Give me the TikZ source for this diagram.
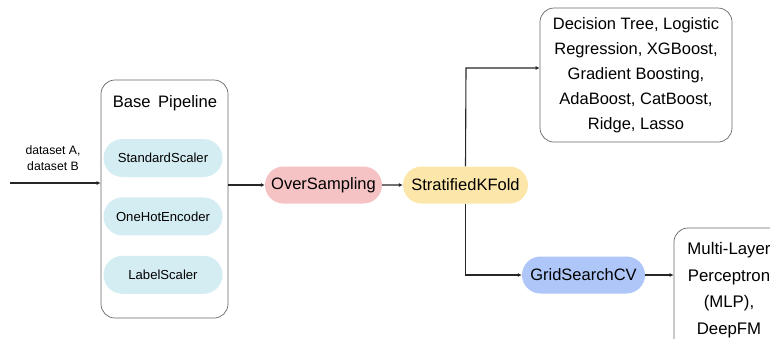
\documentclass[tikz,border=0pt]{standalone}
\usepackage{fontspec}
\setmainfont{Liberation Sans}
\usepackage{tikz}
\usetikzlibrary{arrows.meta}
\usetikzlibrary{shapes.misc}
\usetikzlibrary{positioning}
\definecolor{pipecyan}{HTML}{D4EDF2}
\definecolor{overpink}{HTML}{F6C3C5}
\definecolor{foldyellow}{HTML}{FCE6A9}
\definecolor{gridblue}{HTML}{AEC6F8}
\tikzset{
	flow/.style={draw=black!85, line width=1.1pt},
	flowarrow/.style={flow, -{Latex[length=4pt,width=4pt]}},
	frame/.style={draw=black!60, line width=0.7pt, rounded corners=14pt, fill=white},
	pill/.style={rounded rectangle, minimum height=37pt, inner sep=0pt,
		font=\fontsize{16.5}{20}\selectfont},
	prepill/.style={pill, fill=pipecyan, minimum width=119pt, minimum height=38pt,
		font=\fontsize{13.1}{16}\selectfont},
	models/.style={frame, align=center, inner sep=0pt,
		font=\fontsize{16.5}{25}\selectfont},
}

\begin{document}
\begin{tikzpicture}[x=1pt, y=-1pt]
	\useasboundingbox (0,0) rectangle (770,338);
	\clip (0,0) rectangle (770,338);
	% base pipeline
	\node[frame, minimum width=127pt, minimum height=238pt] (pipe) at (164.5,199) {};
	\node[font=\fontsize{16.6}{20}\selectfont] (title) at (165,103) {Base\ \,Pipeline};
	\node[prepill] (std) at (163,158) {StandardScaler};
	\node[prepill, below=20pt of std] (ohe) {OneHotEncoder};
	\node[prepill, below=20pt of ohe] (lbl) {LabelScaler};
	\coordinate (src) at (10,183);
	\node[align=center, font=\fontsize{12.2}{16}\selectfont] (dsets) at (53,158) {dataset A,\\dataset B};
	\draw[flowarrow] (src) -- (pipe.west |- src);
	% resampling and folds
	\node[pill, fill=overpink, minimum width=117pt] (over) at (323.5,185) {OverSampling};
	\node[pill, fill=foldyellow, minimum width=125pt] (strat) at (465.5,185) {StratifiedKFold};
	\draw[flowarrow] (pipe.east |- over) -- (over.west);
	\draw[flowarrow] (over) -- (strat);
	% model branches
	\node[models, minimum width=192pt, minimum height=134pt] (dec) at (636,75)
		{Decision Tree, Logistic\\Regression, XGBoost,\\Gradient Boosting,\\AdaBoost, CatBoost,\\Ridge, Lasso};
	\node[pill, fill=gridblue, minimum width=123pt] (grid) at (583.5,275) {GridSearchCV};
	\node[models, font=\fontsize{16.8}{26.5}\selectfont, minimum width=110pt, minimum height=124pt] (mlp) at (729,290)
		{Multi-Layer\\Perceptron\\(MLP),\\DeepFM};
	\coordinate (upper) at (466,68);
	\draw[flowarrow] (strat.north) -- (upper) -- (dec.west |- upper);
	\draw[flowarrow] (strat.south) |- (grid.west);
	\draw[flowarrow] (grid.east) -- (mlp.west |- grid.east);
\end{tikzpicture}
\end{document}
